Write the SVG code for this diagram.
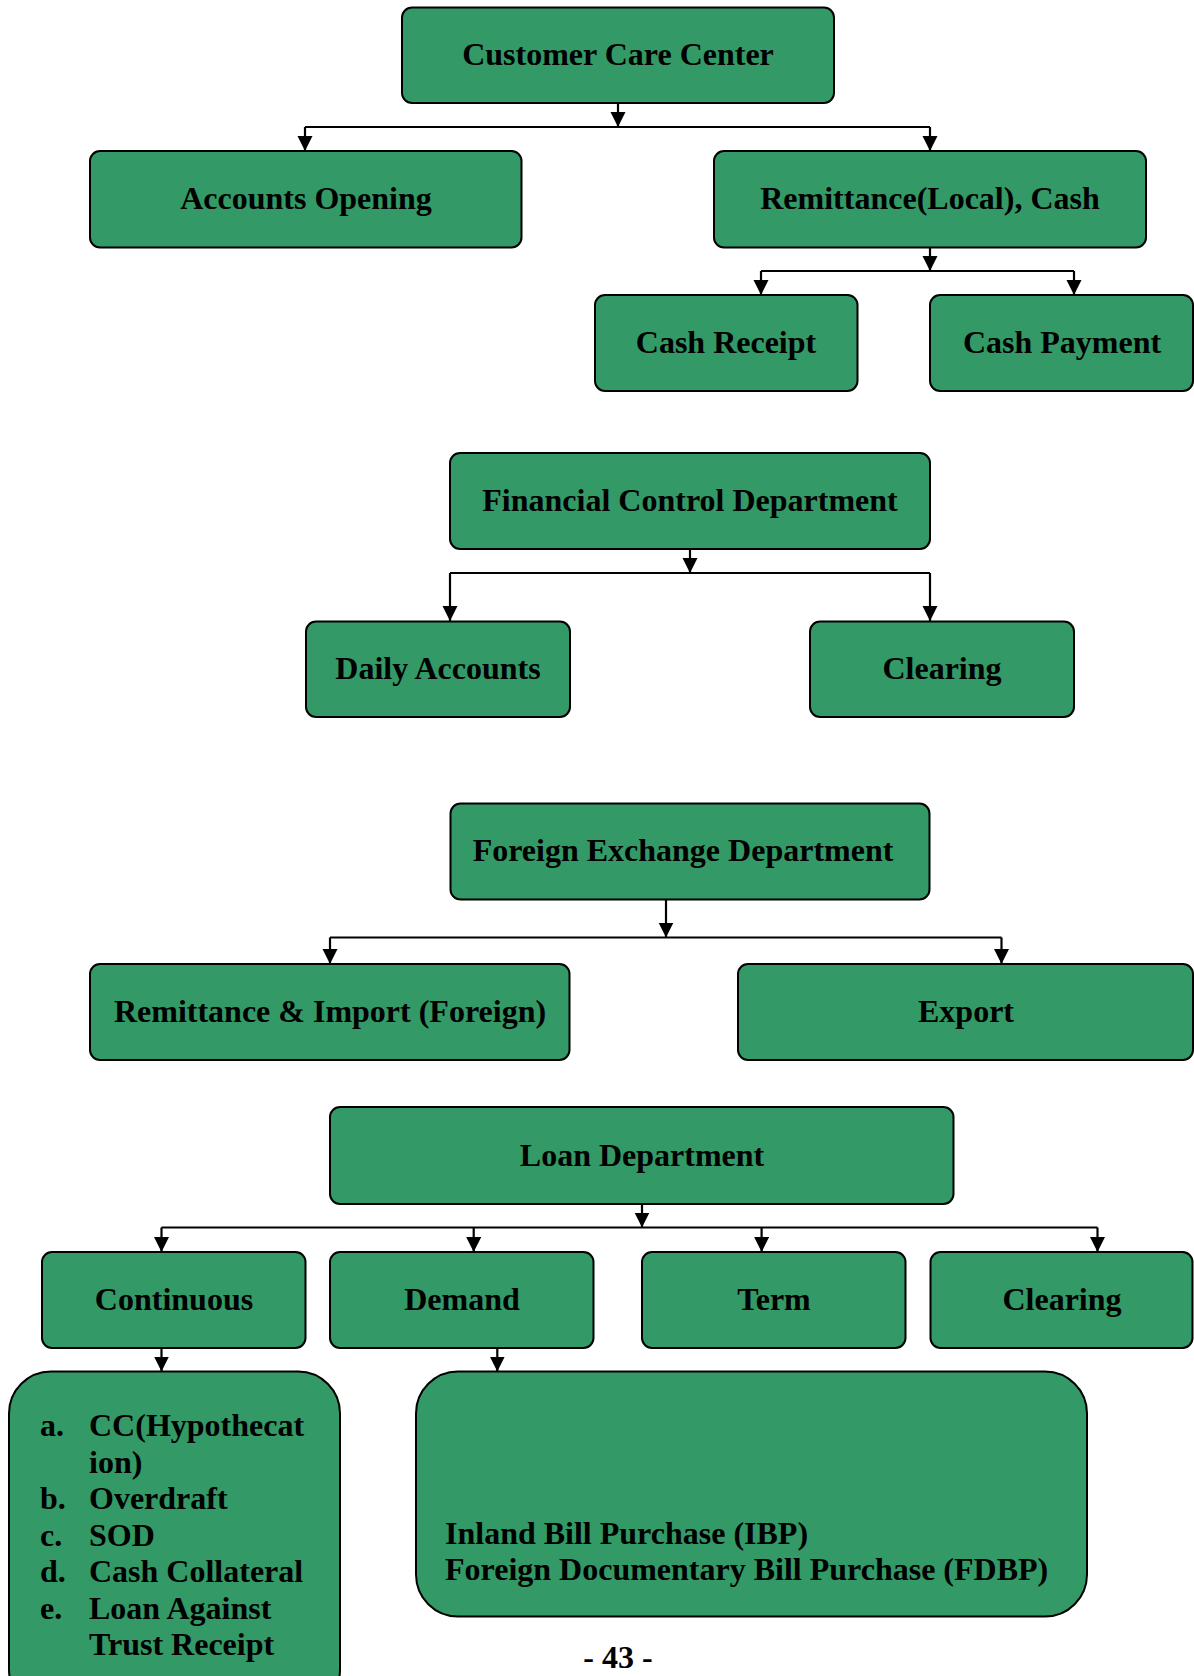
<svg xmlns="http://www.w3.org/2000/svg" width="1194" height="1676" viewBox="0 0 1194 1676">
<defs>
<marker id="arr" markerUnits="userSpaceOnUse" markerWidth="16" markerHeight="16" refX="15" refY="7.5" orient="auto">
<path d="M0,0 L15,7.5 L0,15 z" fill="#000"/>
</marker>
<style>
.box{fill:#339966;stroke:#000;stroke-width:2}
.t{font-family:"Liberation Serif","Times New Roman",serif;font-weight:bold;font-size:32px;fill:#000}
.c{text-anchor:middle}
.ln{fill:none;stroke:#000;stroke-width:2.2}
</style>
</defs>
<rect width="1194" height="1676" fill="#fff"/>
<g id="connectors">
<path class="ln" d="M305,127 H930"/>
<path class="ln" d="M618,103 V127" marker-end="url(#arr)"/>
<path class="ln" d="M305,127 V151" marker-end="url(#arr)"/>
<path class="ln" d="M930,127 V151" marker-end="url(#arr)"/>
<path class="ln" d="M761,271 H1074"/>
<path class="ln" d="M930,248 V271" marker-end="url(#arr)"/>
<path class="ln" d="M761,271 V295" marker-end="url(#arr)"/>
<path class="ln" d="M1074,271 V295" marker-end="url(#arr)"/>
<path class="ln" d="M450,573 H930"/>
<path class="ln" d="M690,549 V573" marker-end="url(#arr)"/>
<path class="ln" d="M450,573 V621" marker-end="url(#arr)"/>
<path class="ln" d="M930,573 V621" marker-end="url(#arr)"/>
<path class="ln" d="M330,937.5 H1001.5"/>
<path class="ln" d="M666,899 V937.5" marker-end="url(#arr)"/>
<path class="ln" d="M330,937.5 V964" marker-end="url(#arr)"/>
<path class="ln" d="M1001.5,937.5 V964" marker-end="url(#arr)"/>
<path class="ln" d="M161.5,1227.5 H1097.5"/>
<path class="ln" d="M642,1204 V1227.5" marker-end="url(#arr)"/>
<path class="ln" d="M161.5,1227.5 V1252" marker-end="url(#arr)"/>
<path class="ln" d="M473.7,1227.5 V1252" marker-end="url(#arr)"/>
<path class="ln" d="M761.6,1227.5 V1252" marker-end="url(#arr)"/>
<path class="ln" d="M1097.5,1227.5 V1252" marker-end="url(#arr)"/>
<path class="ln" d="M161.5,1348 V1371.5" marker-end="url(#arr)"/>
<path class="ln" d="M497.3,1348 V1371.5" marker-end="url(#arr)"/>
</g>
<g id="customer-care">
<rect class="box" x="402" y="7.5" width="432" height="95.5" rx="10"/>
<text class="t c" x="618" y="65">Customer Care Center</text>
</g>
<g id="accounts-opening">
<rect class="box" x="90" y="151" width="431.5" height="96.5" rx="10"/>
<text class="t c" x="306" y="209">Accounts Opening</text>
</g>
<g id="remittance-local">
<rect class="box" x="714" y="151" width="432" height="96.5" rx="10"/>
<text class="t c" x="930" y="209">Remittance(Local), Cash</text>
</g>
<g id="cash-receipt">
<rect class="box" x="595" y="295" width="262.5" height="96" rx="10"/>
<text class="t c" x="726" y="353">Cash Receipt</text>
</g>
<g id="cash-payment">
<rect class="box" x="930" y="295" width="263" height="96" rx="10"/>
<text class="t c" x="1062" y="353">Cash Payment</text>
</g>
<g id="financial-control">
<rect class="box" x="450" y="453" width="480" height="96" rx="10"/>
<text class="t c" x="690" y="511">Financial Control Department</text>
</g>
<g id="daily-accounts">
<rect class="box" x="306" y="621.5" width="264" height="95.5" rx="10"/>
<text class="t c" x="438" y="679">Daily Accounts</text>
</g>
<g id="clearing-fcd">
<rect class="box" x="810" y="621.5" width="264" height="95.5" rx="10"/>
<text class="t c" x="942" y="679">Clearing</text>
</g>
<g id="foreign-exchange">
<rect class="box" x="450.5" y="803.5" width="479" height="96" rx="10"/>
<text class="t c" x="683" y="861">Foreign Exchange Department</text>
</g>
<g id="remittance-import">
<rect class="box" x="90" y="964" width="479.5" height="96" rx="10"/>
<text class="t c" x="330" y="1022">Remittance &amp; Import (Foreign)</text>
</g>
<g id="export">
<rect class="box" x="738" y="964" width="455" height="96" rx="10"/>
<text class="t c" x="966" y="1022">Export</text>
</g>
<g id="loan-department">
<rect class="box" x="330" y="1107" width="623.5" height="97" rx="10"/>
<text class="t c" x="642" y="1166">Loan Department</text>
</g>
<g id="continuous">
<rect class="box" x="42" y="1252" width="263.5" height="96" rx="10"/>
<text class="t c" x="174" y="1310">Continuous</text>
</g>
<g id="demand">
<rect class="box" x="330" y="1252" width="263.5" height="96" rx="10"/>
<text class="t c" x="462" y="1310">Demand</text>
</g>
<g id="term">
<rect class="box" x="642" y="1252" width="263.5" height="96" rx="10"/>
<text class="t c" x="774" y="1310">Term</text>
</g>
<g id="clearing-loan">
<rect class="box" x="930.5" y="1252" width="262" height="96" rx="10"/>
<text class="t c" x="1062" y="1310">Clearing</text>
</g>
<g id="continuous-list">
<rect class="box" x="9" y="1371.5" width="331" height="340" rx="42"/>
<text class="t" x="40" y="1436">a.</text>
<text class="t" x="89" y="1436">CC(Hypothecat</text>
<text class="t" x="89" y="1472.5">ion)</text>
<text class="t" x="40" y="1509">b.</text>
<text class="t" x="89" y="1509">Overdraft</text>
<text class="t" x="40" y="1545.5">c.</text>
<text class="t" x="89" y="1545.5">SOD</text>
<text class="t" x="40" y="1582">d.</text>
<text class="t" x="89" y="1582">Cash Collateral</text>
<text class="t" x="40" y="1618.5">e.</text>
<text class="t" x="89" y="1618.5">Loan Against</text>
<text class="t" x="89" y="1655">Trust Receipt</text>
</g>
<g id="demand-list">
<rect class="box" x="416" y="1371.5" width="671" height="245" rx="42"/>
<text class="t" x="445" y="1544">Inland Bill Purchase (IBP)</text>
<text class="t" x="445" y="1580">Foreign Documentary Bill Purchase (FDBP)</text>
</g>
<text class="t c" x="618" y="1668">- 43 -</text>
</svg>
